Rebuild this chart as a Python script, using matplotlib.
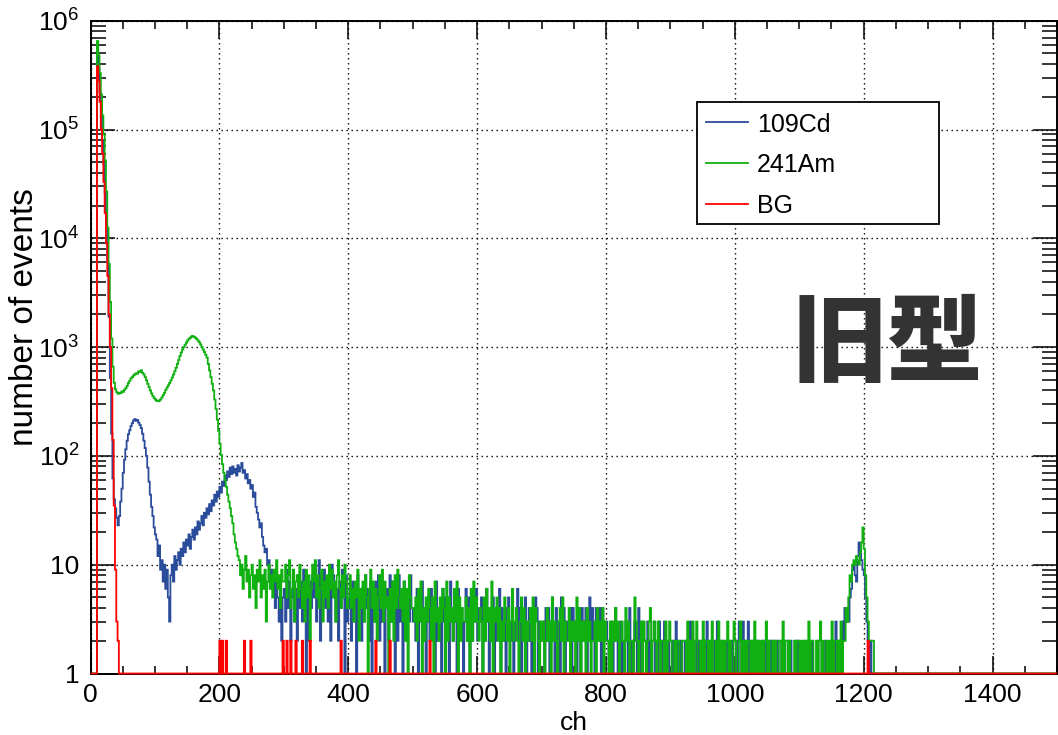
import numpy as np
import matplotlib
matplotlib.use("Agg")
import matplotlib.pyplot as plt
from matplotlib.ticker import LogLocator, MultipleLocator, NullFormatter
from matplotlib.patches import Rectangle
from matplotlib.lines import Line2D

# histogram binning: 2 channels per bin, 0..1500 ch
BIN_W = 2
N_BINS = 750

# counts per bin, ch 0..300 (150 bins)
cd_head = [
    0, 0, 0, 0, 0, 500000, 360000, 220000, 130000, 80000,
    48000, 26000, 13000, 6000, 1900, 520, 160, 62, 40, 33,
    27, 23, 28, 38, 50, 70, 92, 115, 138, 158,
    172, 188, 200, 212, 218, 210, 214, 202, 192, 180,
    160, 138, 118, 100, 78, 58, 44, 34, 28, 22,
    19, 17, 12, 15, 9, 11, 7, 10, 6, 9,
    5, 3, 8, 10, 7, 12, 9, 11, 13, 10,
    14, 12, 16, 13, 17, 15, 19, 14, 18, 21,
    17, 22, 19, 25, 21, 24, 28, 23, 30, 27,
    33, 29, 36, 31, 39, 35, 44, 38, 47, 42,
    52, 46, 58, 53, 66, 60, 72, 64, 78, 68,
    80, 70, 76, 66, 82, 72, 78, 86, 70, 74,
    62, 68, 56, 60, 50, 54, 42, 46, 34, 30,
    26, 22, 24, 18, 15, 13, 14, 10, 11, 8,
    9, 6, 8, 4, 7, 5, 3, 6, 2, 5,
]
am_head = [
    0, 0, 0, 0, 0, 650000, 480000, 330000, 210000, 135000,
    90000, 52000, 27000, 12500, 5800, 2600, 1200, 660, 470, 410,
    385, 372, 380, 376, 392, 388, 405, 420, 440, 468,
    490, 515, 530, 548, 560, 575, 570, 600, 590, 612,
    580, 560, 530, 495, 460, 430, 400, 375, 355, 340,
    330, 322, 318, 322, 330, 345, 362, 380, 405, 425,
    445, 468, 495, 525, 560, 600, 645, 700, 760, 830,
    890, 950, 1000, 1050, 1100, 1150, 1190, 1220, 1250, 1265,
    1240, 1220, 1190, 1150, 1110, 1060, 1000, 950, 900, 850,
    800, 700, 610, 530, 460, 400, 330, 270, 215, 170,
    130, 102, 84, 70, 60, 52, 44, 38, 33, 28,
    24, 19, 16, 14, 12, 11, 8, 10, 6, 9,
    12, 7, 9, 5, 8, 10, 6, 8, 4, 9,
    7, 11, 5, 8, 6, 9, 3, 7, 10, 6,
    8, 5, 9, 7, 11, 6, 8, 4, 9, 7,
]
bg_head = [
    0, 0, 0, 0, 0, 380000, 280000, 180000, 100000, 60000,
    33000, 17000, 9000, 4500, 2000, 1000, 420, 140, 35, 9,
    3, 2,
]
# isolated background bins above ch 200 (2 counts each)
bg_spike_ch = [201, 205, 210, 238, 248, 298, 304, 311, 318, 328,
               340, 389, 443, 464, 526, 1207]
bg_spike_counts = [2] * len(bg_spike_ch)

# counts from ch 300 on, one row per 100 ch, one base-36 digit per bin
cd_tail = [
    "6394725836 2847395162 7485936b28 5946372a85 3627495183",
    "4627351846 2538462715 3748263514 6283741528 3517426384",
    "3426153724 1352634172 2416352317 4235162431 3625142436",
    "2435142631 3251423614 2314532412 3624132512 4213254132",
    "2314241352 1423152413 2341423142 1432413524 2143241423",
    "3212312421 2312032142 1232141232 2131202312 1321231202",
    "2120312121 1202131201 2121202131 1201213120 2112021201",
    "1213203121 3021202121 1202120212 0212102120 1202101202",
    "1010201102 0110201010 2011020130 2103243435 69a87cgdb9",
    "8532120000 0000000000 0000000000 0000000000 0000000000",
]
am_tail = [
    "7a58b46937 85a6473958 26a7b58469 37584a6957 38b6485a74",
    "5846375926 4738516947 3625849374 5163728495 4637261854",
    "4352637142 5364251734 2536417253 4263715243 3524162735",
    "3243152634 2714352413 2532413623 4213524132 3425143213",
    "2312423152 3213425132 2413231524 1323142312 2314232413",
    "2213132423 1232142312 2153212313 2123412321 3212213123",
    "2102122012 2203121302 3102130220 2131021302 1202302103",
    "2012302120 2202130212 0212302102 1200221302 2120102022",
    "1202020302 2102023120 1202130221 2031224358 7abacbadgm",
    "e853222200 0000000000 0000000000 0000000000 0000000000",
]

labels = ["109Cd", "241Am", "BG"]
colors = ["#2b4b9b", "#10b010", "#ff0000"]


def decode(rows):
    return [int(c, 36) for r in rows for c in r.replace(" ", "")]


def build(head, rows=()):
    vals = np.zeros(N_BINS)
    seq = list(head) + decode(rows)
    vals[:len(seq)] = seq[:N_BINS]
    return vals


cd = build(cd_head, cd_tail)
am = build(am_head, am_tail)
bg = build(bg_head)
for ch, n in zip(bg_spike_ch, bg_spike_counts):
    bg[ch // BIN_W] = n

edges = np.arange(N_BINS + 1) * BIN_W

plt.rcParams["font.family"] = ["Liberation Sans", "DejaVu Sans"]
plt.rcParams["mathtext.fontset"] = "custom"
plt.rcParams["mathtext.rm"] = "Liberation Sans"
plt.rcParams["mathtext.it"] = "Liberation Sans:italic"
plt.rcParams["mathtext.bf"] = "Liberation Sans:bold"

W, H = 1058, 735
fig = plt.figure(figsize=(W / 100, H / 100), dpi=100)
ax = fig.add_axes([90.5 / W, 1 - 673.5 / H, (1057 - 90.5) / W, (673.5 - 20.7) / H])

# zero bins sit on the frame bottom like ROOT does
for vals, col, z in zip([cd, am, bg], colors, [2.0, 2.1, 2.6]):
    ax.stairs(np.maximum(vals, 1), edges, baseline=None, color=col,
              lw=1.3, clip_on=False, zorder=z)

ax.set_xlim(0, 1500)
ax.set_yscale("log")
ax.set_ylim(1, 1e6)

ax.set_xticks(np.arange(0, 1401, 200))
ax.xaxis.set_minor_locator(MultipleLocator(50))
yt = [1, 10, 1e2, 1e3, 1e4, 1e5, 1e6]
ax.set_yticks(yt)
ax.set_yticklabels(["1", "10"] + [r"$10^{%d}$" % k for k in range(2, 7)])
ax.yaxis.set_minor_locator(LogLocator(base=10, subs=np.arange(2, 10)))
ax.yaxis.set_minor_formatter(NullFormatter())

ax.tick_params(which="both", direction="in", top=True, right=True,
               width=1.1, colors="black")
ax.tick_params(axis="x", which="major", length=13, labelsize=19, pad=7)
ax.tick_params(axis="x", which="minor", length=6)
ax.tick_params(axis="y", which="major", length=17, labelsize=19, pad=8)
ax.tick_params(axis="y", which="minor", length=11)
for s in ax.spines.values():
    s.set_linewidth(1.4)

ax.set_axisbelow(True)
ax.grid(which="major", color="black", linestyle=(0, (1, 2.6)), linewidth=1.0)

fig.text(33 / W, 1 - 317 / H, "number of events", rotation=90,
         rotation_mode="anchor", ha="center", va="baseline", fontsize=24)
fig.text(573.8 / W, 1 - 730 / H, "ch", ha="center", va="baseline", fontsize=19)

# legend box
fig.add_artist(Rectangle((697 / W, 1 - 224 / H), 242 / W, 122 / H,
                         transform=fig.transFigure, facecolor="white",
                         edgecolor="black", lw=1.3, zorder=5))
for lab, col, yc, yb in zip(labels, colors, [122.3, 163.3, 204.0],
                            [131.7, 171.7, 213.3]):
    fig.add_artist(Line2D([706 / W, 748 / W], [1 - yc / H, 1 - yc / H],
                          color=col, lw=1.3, transform=fig.transFigure, zorder=6))
    fig.text(757 / W, 1 - yb / H, lab, va="baseline", fontsize=18, zorder=6)

fig.text(887.5 / W, 1 - 346 / H, "旧型", fontsize=69, fontweight="black",
         family=["Noto Sans CJK JP", "DejaVu Sans"], color="#333333",
         ha="center", va="center")

fig.savefig("out.png", dpi=100)
